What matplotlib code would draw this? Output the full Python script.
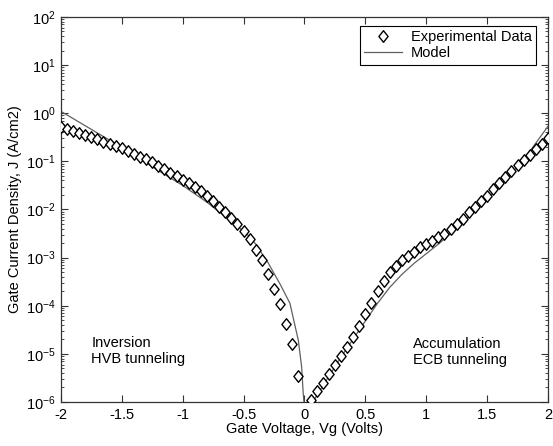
import numpy as np
import matplotlib
matplotlib.use("Agg")
import matplotlib.pyplot as plt
from matplotlib.ticker import LogLocator, FixedLocator
from matplotlib.path import Path

plt.rcParams['font.family'] = ['Liberation Sans', 'DejaVu Sans']
plt.rcParams['mathtext.fontset'] = 'custom'
plt.rcParams['mathtext.rm'] = 'Liberation Sans'
plt.rcParams['mathtext.it'] = 'Liberation Sans'

# Experimental data (Vg in volts, log10 of J in A/cm2)
exp_v_neg = [-2.00, -1.95, -1.90, -1.85, -1.80, -1.75, -1.70, -1.65, -1.60, -1.55,
             -1.50, -1.45, -1.40, -1.35, -1.30, -1.25, -1.20, -1.15, -1.10, -1.05,
             -1.00, -0.95, -0.90, -0.85, -0.80, -0.75, -0.70, -0.65, -0.60, -0.55,
             -0.50, -0.45, -0.40, -0.35, -0.30, -0.25, -0.20, -0.15, -0.10, -0.05]
exp_logj_neg = [-0.29, -0.33, -0.37, -0.41, -0.45, -0.50, -0.54, -0.59, -0.63, -0.68,
                -0.73, -0.78, -0.84, -0.90, -0.96, -1.02, -1.09, -1.16, -1.24, -1.31,
                -1.38, -1.45, -1.53, -1.62, -1.72, -1.83, -1.94, -2.06, -2.18, -2.31,
                -2.45, -2.62, -2.84, -3.06, -3.34, -3.66, -3.97, -4.38, -4.80, -5.47]
exp_v_pos = [0.05, 0.10, 0.15, 0.20, 0.25, 0.30, 0.35, 0.40, 0.45, 0.50,
             0.55, 0.60, 0.65, 0.70, 0.75, 0.80, 0.85, 0.90, 0.95, 1.00,
             1.05, 1.10, 1.15, 1.20, 1.25, 1.30, 1.35, 1.40, 1.45, 1.50,
             1.55, 1.60, 1.65, 1.70, 1.75, 1.80, 1.85, 1.90, 1.95, 2.00]
exp_logj_pos = [-5.95, -5.78, -5.60, -5.42, -5.23, -5.04, -4.85, -4.64, -4.42, -4.18,
                -3.95, -3.70, -3.48, -3.30, -3.17, -3.06, -2.97, -2.88, -2.79, -2.72,
                -2.65, -2.58, -2.50, -2.40, -2.31, -2.20, -2.06, -1.94, -1.83, -1.71,
                -1.58, -1.45, -1.32, -1.20, -1.08, -0.97, -0.86, -0.75, -0.63, -0.52]

# Model curve
model_v_neg = [-2.0, -1.8, -1.6, -1.5, -1.4, -1.2, -1.0, -0.8, -0.6, -0.475, -0.4,
               -0.3, -0.256, -0.2, -0.119, -0.05, -0.023, -0.010, -0.004]
model_logj_neg = [0.04, -0.26, -0.56, -0.71, -0.87, -1.19, -1.50, -1.85, -2.25, -2.50, -2.72,
                  -3.10, -3.30, -3.55, -3.95, -4.72, -5.27, -5.82, -6.0]
model_v_pos = [0.07, 0.1, 0.2, 0.3, 0.4, 0.5, 0.6, 0.7, 0.8, 0.9, 1.0,
               1.1, 1.2, 1.3, 1.4, 1.5, 1.6, 1.7, 1.8, 1.9, 2.0]
model_logj_pos = [-6.0, -5.87, -5.47, -5.07, -4.69, -4.32, -3.95, -3.62, -3.35, -3.12, -2.92,
                  -2.72, -2.50, -2.27, -2.03, -1.78, -1.52, -1.25, -0.97, -0.62, -0.27]

xticks = [-2, -1.5, -1, -0.5, 0, 0.5, 1, 1.5, 2]
xticklabels = ['-2', '-1.5', '-1', '-0.5', '0', '0.5', '1', '1.5', '2']

diamond = Path([(0, 1), (0.8, 0), (0, -1), (-0.8, 0), (0, 1)],
               [Path.MOVETO, Path.LINETO, Path.LINETO, Path.LINETO, Path.CLOSEPOLY])

fig = plt.figure(figsize=(5.53, 4.46), dpi=100)
ax = fig.add_axes([0.110, 0.0987, 0.881, 0.8633])

exp_v = exp_v_neg + exp_v_pos
exp_j = [10 ** v for v in exp_logj_neg + exp_logj_pos]
ax.plot(exp_v, exp_j, linestyle='none', marker=diamond, markersize=8.3,
        markerfacecolor='white', markeredgecolor='black', markeredgewidth=1.0,
        label='Experimental Data', zorder=3)
ax.plot(model_v_neg, [10 ** v for v in model_logj_neg], color='#606060', lw=0.9,
        label='Model', zorder=2)
ax.plot(model_v_pos, [10 ** v for v in model_logj_pos], color='#606060', lw=0.9, zorder=2)

ax.set_yscale('log')
ax.set_xlim(-2, 2)
ax.set_ylim(1e-6, 1e2)
ax.xaxis.set_major_locator(FixedLocator(xticks))
ax.set_xticklabels(xticklabels)
ax.yaxis.set_major_locator(LogLocator(base=10, numticks=20))
ax.yaxis.set_minor_locator(LogLocator(base=10, subs=np.arange(2, 10), numticks=20))

ax.tick_params(which='both', direction='in', top=True, right=True, labelsize=10.5,
               color='#333333')
ax.tick_params(which='major', length=5, width=0.8)
ax.tick_params(which='minor', length=2.5, width=0.6)
ax.tick_params(axis='x', pad=4)
for s in ax.spines.values():
    s.set_color('#333333')
    s.set_linewidth(0.9)

ax.set_xlabel('Gate Voltage, Vg (Volts)', fontsize=10.5, labelpad=0)
ax.set_ylabel('Gate Current Density, J (A/cm2)', fontsize=10.5, labelpad=3)

ax.text(-1.75, 10 ** -4.94, 'Inversion\nHVB tunneling', fontsize=10.5,
        ha='left', va='center', linespacing=1.25)
ax.text(0.89, 10 ** -4.96, 'Accumulation\nECB tunneling', fontsize=10.5,
        ha='left', va='center', linespacing=1.25)

leg = ax.legend(loc='upper right', bbox_to_anchor=(0.975, 0.977), fontsize=10.5,
                frameon=True, fancybox=False, edgecolor='black', framealpha=1,
                borderpad=0.3, handlelength=2.6, handletextpad=0.6, labelspacing=0.15,
                numpoints=1, borderaxespad=0)
leg.get_frame().set_linewidth(0.8)

fig.savefig('out.png', dpi=100)
